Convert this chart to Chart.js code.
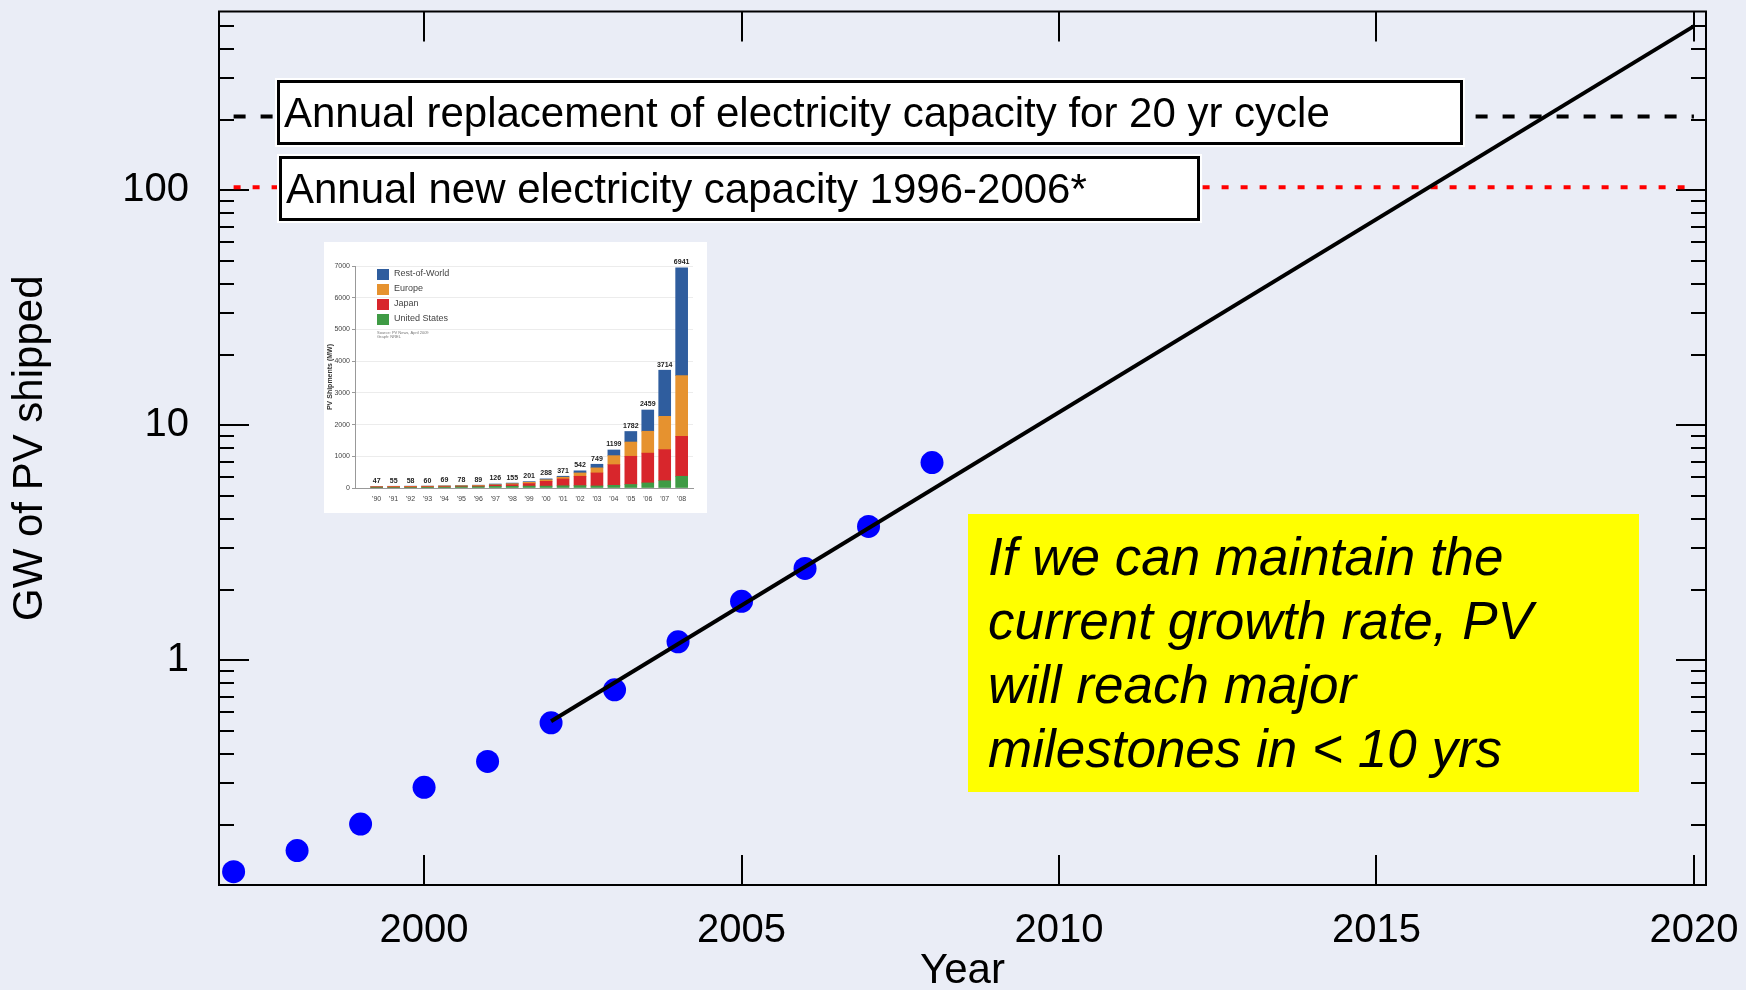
<!DOCTYPE html>
<html>
<head>
<meta charset="utf-8">
<script src="https://cdn.jsdelivr.net/npm/chart.js@4.4.1/dist/chart.umd.min.js"></script>
<style>
  html, body { margin:0; padding:0; background:#EAEDF6; }
  #wrap { position:relative; width:1746px; height:990px; overflow:hidden; background:#EAEDF6; }
  #main { position:absolute; left:0; top:0; }
  .lbl { position:absolute; box-sizing:border-box; background:#fff; border:3px solid #000;
         box-shadow:0 0 0 2px #fff; font-family:"Liberation Sans", Arial, sans-serif;
         font-size:42px; line-height:59px; color:#000; padding-left:4px; white-space:nowrap; }
  #note { position:absolute; left:968px; top:514px; width:671px; height:278px; box-sizing:border-box;
          background:#ffff00; font-family:"Liberation Sans", Arial, sans-serif; font-style:italic;
          font-size:53px; line-height:64px; color:#000; padding:11px 0 0 20px; white-space:nowrap; }
  #insetBox { position:absolute; left:324px; top:242px; width:383px; height:271px; background:#fff; }
  #inset { position:absolute; left:0; top:0; }
</style>
</head>
<body>
<div id="wrap">
  <canvas id="main" width="1746" height="990"></canvas>
  <div class="lbl" style="left:277px; top:80px; width:1186px; height:65px;">Annual replacement of electricity capacity for 20 yr cycle</div>
  <div class="lbl" style="left:279px; top:156px; width:921px; height:65px;">Annual new electricity capacity 1996-2006*</div>
  <div id="insetBox"><canvas id="inset" width="383" height="271"></canvas></div>
  <div id="note">If we can maintain the<br>current growth rate, PV<br>will reach major<br>milestones in &lt; 10 yrs</div>
</div>
<script>
// ---------- Main chart data ----------
const years = [1997, 1998, 1999, 2000, 2001, 2002, 2003, 2004, 2005, 2006, 2007, 2008];
const gwShipped = [0.126, 0.155, 0.201, 0.288, 0.371, 0.542, 0.749, 1.199, 1.782, 2.459, 3.714, 6.941];
const trendYears = [2002, 2020];
const trendValues = [0.55, 500];
const refYears = [1997, 2020];
const replacementLevel = 206;   // annual replacement for 20 yr cycle (GW)
const newCapacityLevel = 103;   // annual new capacity 1996-2006 (GW)
const xTickValues = [2000, 2005, 2010, 2015, 2020];
const yTickValues = [1, 10, 100];

// ---------- Inset chart data ----------
const insetLabels = ["'90","'91","'92","'93","'94","'95","'96","'97","'98","'99","'00","'01","'02","'03","'04","'05","'06","'07","'08"];
const insetUS     = [15, 17, 18, 23, 26, 35, 39, 51, 54, 60, 60, 70, 75, 65, 85, 110, 160, 230, 370];
const insetJapan  = [17, 19, 19, 17, 17, 16, 21, 35, 49, 80, 150, 215, 295, 410, 650, 890, 940, 980, 1260];
const insetEurope = [10, 14, 16, 17, 22, 20, 19, 19, 33, 40, 50, 55, 105, 160, 285, 450, 690, 1050, 1914];
const insetRoW    = [5, 5, 5, 3, 4, 7, 10, 21, 19, 21, 28, 31, 67, 114, 179, 332, 669, 1454, 3397];
const insetTotals = [47, 55, 58, 60, 69, 78, 89, 126, 155, 201, 288, 371, 542, 749, 1199, 1782, 2459, 3714, 6941];
const insetLegend = ["Rest-of-World", "Europe", "Japan", "United States"];
const insetColors = ["#2f5d9e", "#e6922f", "#d8262c", "#3f9b45"];
const insetYTicks = [0, 1000, 2000, 3000, 4000, 5000, 6000, 7000];

const FONT = '"Liberation Sans", Arial, sans-serif';
Chart.defaults.color = '#000';
Chart.defaults.font.family = FONT;

const frameTicks = {
  id: 'frameTicks',
  beforeDatasetsDraw(chart) {
    const { ctx, chartArea: { left, right, top, bottom }, scales: { x, y } } = chart;
    ctx.save();
    ctx.strokeStyle = '#000';
    ctx.lineWidth = 2;
    ctx.strokeRect(left, top, right - left, bottom - top);
    ctx.beginPath();
    xTickValues.forEach(v => {
      const px = Math.round(x.getPixelForValue(v));
      ctx.moveTo(px, bottom); ctx.lineTo(px, bottom - 30);
      ctx.moveTo(px, top); ctx.lineTo(px, top + 30);
    });
    for (let e = -1; e <= 2; e++) {
      for (let m = 1; m <= 9; m++) {
        const v = m * Math.pow(10, e);
        if (v < y.min || v > y.max) continue;
        const py = Math.round(y.getPixelForValue(v));
        const L = (m === 1) ? 30 : 15;
        ctx.moveTo(left, py); ctx.lineTo(left + L, py);
        ctx.moveTo(right, py); ctx.lineTo(right - L, py);
      }
    }
    ctx.stroke();
    ctx.restore();
  }
};

new Chart(document.getElementById('main'), {
  type: 'line',
  data: {
    datasets: [
      {
        label: 'Trend',
        data: trendYears.map((yr, i) => ({ x: yr, y: trendValues[i] })),
        borderColor: '#000', borderWidth: 4, pointRadius: 0, order: 0
      },
      {
        label: 'GW of PV shipped',
        data: years.map((yr, i) => ({ x: yr, y: gwShipped[i] })),
        showLine: false, pointRadius: 11.5, pointHoverRadius: 11.5,
        pointBackgroundColor: '#0000ff', pointBorderWidth: 0, borderColor: '#0000ff', order: 1
      },
      {
        label: 'Annual replacement',
        data: refYears.map(yr => ({ x: yr, y: replacementLevel })),
        borderColor: '#000', borderWidth: 4, borderDash: [12, 15], pointRadius: 0, order: 2
      },
      {
        label: 'Annual new capacity',
        data: refYears.map(yr => ({ x: yr, y: newCapacityLevel })),
        borderColor: '#ff0000', borderWidth: 4, borderDash: [7, 12], pointRadius: 0, order: 2
      }
    ]
  },
  options: {
    responsive: false, animation: false, devicePixelRatio: 1,
    layout: { padding: { left: 0, top: 7, right: 40, bottom: 0 } },
    plugins: { legend: { display: false }, tooltip: { enabled: false } },
    elements: { line: { tension: 0 } },
    clip: false,
    scales: {
      x: {
        type: 'linear', min: 1996.77, max: 2020.19,
        afterBuildTicks: s => { s.ticks = xTickValues.map(v => ({ value: v })); },
        afterFit: s => { s.height = 105; s.paddingLeft = 0; s.paddingRight = 0; },
        grid: { display: false, drawTicks: false },
        border: { display: false },
        ticks: { font: { size: 40, family: FONT }, color: '#000', padding: 22, maxRotation: 0, autoSkip: false,
                 callback: v => String(v) },
        title: { display: true, text: 'Year', color: '#000',
                 font: { size: 42, family: FONT, lineHeight: 0.9 }, padding: { top: 0, bottom: 0 } }
      },
      y: {
        type: 'logarithmic', min: 0.1106, max: 577,
        afterBuildTicks: s => { s.ticks = yTickValues.map(v => ({ value: v })); },
        afterFit: s => { s.width = 219; s.paddingTop = 0; s.paddingBottom = 0; },
        grid: { display: false, drawTicks: false },
        border: { display: false },
        ticks: { font: { size: 40, family: FONT }, color: '#000', padding: 30, autoSkip: false,
                 callback: v => String(v) },
        title: { display: true, text: 'GW of PV shipped', color: '#000',
                 font: { size: 42, family: FONT, lineHeight: 1.2 }, padding: { top: 5, bottom: 0 } }
      }
    }
  },
  plugins: [frameTicks]
});

// ---------- Inset stacked bar chart ----------
const insetExtras = {
  id: 'insetExtras',
  afterDatasetsDraw(chart) {
    const { ctx, scales: { x, y } } = chart;
    ctx.save();
    ctx.fillStyle = '#222';
    ctx.font = 'bold 7px ' + FONT;
    ctx.textAlign = 'center';
    ctx.textBaseline = 'bottom';
    insetTotals.forEach((t, i) => {
      ctx.fillText(String(t), x.getPixelForValue(i), y.getPixelForValue(t) - 2);
    });
    // legend
    ctx.textAlign = 'left';
    ctx.textBaseline = 'middle';
    ctx.font = '9px ' + FONT;
    insetLegend.forEach((name, i) => {
      const yy = 32 + i * 15;
      ctx.fillStyle = insetColors[i];
      ctx.fillRect(53, yy - 5, 12, 11);
      ctx.fillStyle = '#444';
      ctx.fillText(name, 70, yy);
    });
    ctx.font = '4px ' + FONT;
    ctx.fillStyle = '#777';
    ctx.fillText('Source: PV News, April 2009', 53, 91);
    ctx.fillText('Graph: NREL', 53, 95);
    ctx.restore();
  }
};

const stackOrder = [
  { label: 'United States', data: insetUS, color: insetColors[3] },
  { label: 'Japan', data: insetJapan, color: insetColors[2] },
  { label: 'Europe', data: insetEurope, color: insetColors[1] },
  { label: 'Rest-of-World', data: insetRoW, color: insetColors[0] }
];

new Chart(document.getElementById('inset'), {
  type: 'bar',
  data: {
    datasets: stackOrder.map(s => ({
      label: s.label,
      data: s.data.map((v, i) => ({ x: i, y: v })),
      backgroundColor: s.color, borderWidth: 0, barThickness: 12, stack: 'pv'
    }))
  },
  options: {
    responsive: false, animation: false, devicePixelRatio: 1,
    layout: { padding: { left: 0, top: 24, right: 14, bottom: 0 } },
    plugins: { legend: { display: false }, tooltip: { enabled: false } },
    scales: {
      x: {
        type: 'linear', min: -1.28, max: 18.67, stacked: true, offset: false,
        afterBuildTicks: s => { s.ticks = insetLabels.map((l, i) => ({ value: i })); },
        afterFit: s => { s.height = 25; s.paddingLeft = 0; s.paddingRight = 0; },
        grid: { display: false, drawTicks: false },
        border: { display: true, color: '#999', width: 1 },
        ticks: { font: { size: 7, family: FONT }, color: '#444', padding: 7, maxRotation: 0, autoSkip: false,
                 callback: v => insetLabels[v] }
      },
      y: {
        min: 0, max: 7000, stacked: true,
        afterBuildTicks: s => { s.ticks = insetYTicks.map(v => ({ value: v })); },
        afterFit: s => { s.width = 31; s.paddingTop = 0; s.paddingBottom = 0; },
        grid: { color: '#ececec', lineWidth: 1, drawTicks: true, tickLength: 3, tickColor: '#999' },
        border: { display: true, color: '#999', width: 1 },
        ticks: { font: { size: 7, family: FONT }, color: '#444', padding: 2, autoSkip: false,
                 callback: v => String(v) },
        title: { display: true, text: 'PV Shipments (MW)', color: '#333',
                 font: { size: 7, family: FONT, weight: 'bold' }, padding: { top: 2, bottom: 0 } }
      }
    }
  },
  plugins: [insetExtras]
});
</script>
</body>
</html>
